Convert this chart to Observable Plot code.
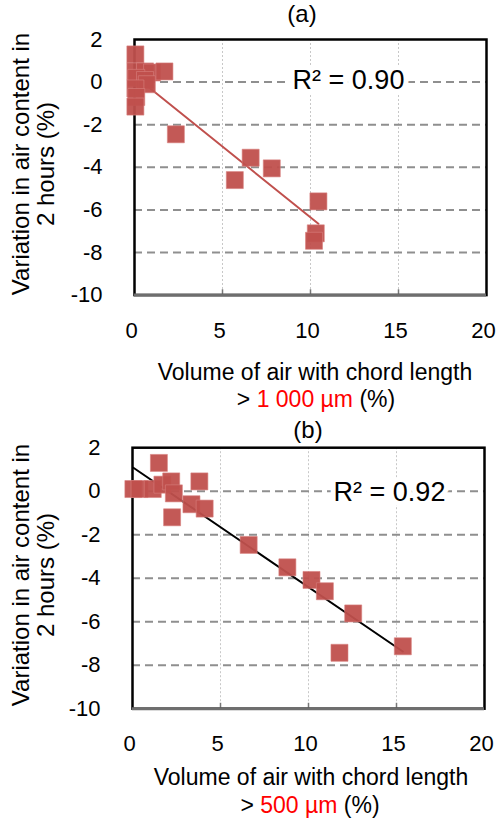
<!DOCTYPE html>
<html>
<head>
<meta charset="utf-8">
<script src="https://cdn.jsdelivr.net/npm/d3@7"></script>
<script src="https://cdn.jsdelivr.net/npm/@observablehq/plot@0.6"></script>
<style>
  html, body { margin: 0; padding: 0; background: #fff; }
  body { font-family: "Liberation Sans", Arial, sans-serif; color: #000; }
  #wrap { position: relative; width: 496px; height: 818px; overflow: hidden; }
  .abs { position: absolute; white-space: nowrap; }
  .ptitle { font-size: 24px; transform: translate(-50%, -50%); }
  .ytitle { font-size: 24px; line-height: 25px; text-align: center; transform: translate(-50%, -50%) rotate(-90deg); }
  .xtitle { font-size: 23px; transform: translate(-50%, -50%); }
  .red { color: #ff0000; }
  svg { position: absolute; left: 0; }
</style>
</head>
<body>
<div id="wrap">
  <div class="abs ptitle" style="left:302px; top:14px;">(a)</div>
  <div class="abs ytitle" style="left:33px; top:164px;">Variation in air content in<br>2 hours (%)</div>
  <div class="abs xtitle" style="left:315px; top:372px;">Volume of air with chord length</div>
  <div class="abs xtitle" style="left:316px; top:399px;">&gt; <span class="red">1 000 µm</span> (%)</div>

  <div class="abs ptitle" style="left:308px; top:430px;">(b)</div>
  <div class="abs ytitle" style="left:33px; top:575px;">Variation in air content in<br>2 hours (%)</div>
  <div class="abs xtitle" style="left:311px; top:777px;">Volume of air with chord length</div>
  <div class="abs xtitle" style="left:310px; top:805px;">&gt; <span class="red">500 µm</span> (%)</div>
</div>
<script>
// ---- data ----
const xTicks = [0, 5, 10, 15, 20];
const yTicks = [-10, -8, -6, -4, -2, 0, 2];
const gridYTicks = [-8, -6, -4, -2, 0];
const gridXTicks = [5, 10, 15];

// Panel (a): volume of air with chord length > 1000 µm (%)
const xA = [0.05, 0.05, 0.6, 1.0, 1.7, 0.1, 0.6, 0.7, 0.05, 0.1, 0.05, 2.35, 5.7, 6.6, 7.8, 10.45, 10.3, 10.2];
const yA = [1.3, 0.5, 0.5, 0.45, 0.5, 0.2, 0.1, -0.1, -0.3, -0.7, -1.15, -2.45, -4.6, -3.55, -4.05, -5.6, -7.1, -7.45];

// Panel (b): volume of air with chord length > 500 µm (%)
const xB = [0.05, 0.4, 1.15, 1.5, 1.7, 2.2, 2.35, 3.8, 2.25, 3.35, 4.1, 6.6, 8.8, 10.17, 10.93, 12.54, 11.76, 15.36];
const yB = [0.1, 0.1, 0.1, 1.3, 0.3, 0.45, -0.1, 0.45, -1.2, -0.6, -0.8, -2.47, -3.5, -4.08, -4.6, -5.62, -7.43, -7.13];

const r2Labels = ["R² = 0.90", "R² = 0.92"];

// ---- drawing ----
const markerColor = "#c0504d";
const fmt = d => String(d);

function panel(xs, ys, opts) {
  const data = xs.map((x, i) => ({x, y: ys[i]}));
  const yMin = d3.min(yTicks), yMax = d3.max(yTicks);
  return Plot.plot({
    width: 496,
    height: opts.height,
    marginLeft: opts.ml,
    marginRight: opts.mr,
    marginTop: opts.mt,
    marginBottom: opts.mb,
    style: {fontFamily: "'Liberation Sans', Arial, sans-serif", fontSize: "22px", color: "#000", background: "transparent", overflow: "visible"},
    x: {domain: [d3.min(xTicks), d3.max(xTicks)]},
    y: {domain: [yMin, yMax]},
    marks: [
      Plot.gridX(gridXTicks, {stroke: "#c8c8c8", strokeOpacity: 1, strokeWidth: 1, strokeDasharray: "2,2"}),
      Plot.gridY(gridYTicks, {stroke: "#8f8f8f", strokeOpacity: 1, strokeWidth: 2, strokeDasharray: "8,5"}),
      Plot.ruleX(gridXTicks, {y1: yMin, y2: yMin + 0.25, stroke: "#777", strokeWidth: 1.5}),
      Plot.frame({stroke: "#000", strokeWidth: 2.5}),
      Plot.ruleY([yMin], {stroke: "#6e6e6e", strokeWidth: 3}),
      Plot.axisX(xTicks, {tickSize: 0, tickPadding: 27, fontSize: 22, label: null, tickFormat: fmt, dx: -3}),
      Plot.axisY(yTicks, {tickSize: 0, tickPadding: 32, fontSize: 22, label: null, tickFormat: fmt}),
      Plot.linearRegressionY(data, {x: "x", y: "y", stroke: opts.lineColor, strokeWidth: 2, ci: 0}),
      Plot.dot(data, {x: "x", y: "y", symbol: "square", r: 9.6, fill: markerColor, fillOpacity: 0.95, stroke: "#d9827f", strokeWidth: 0.6}),
      Plot.text([opts.r2], {
        text: d => d, frameAnchor: "top-left", dx: opts.r2dx, dy: opts.r2dy,
        textAnchor: "middle", lineAnchor: "middle", fontSize: 27, fill: "#000",
        stroke: "#fff", strokeWidth: 10
      })
    ]
  });
}

const wrap = document.getElementById("wrap");

const pa = panel(xA, yA, {height: 340, ml: 134, mr: 10, mt: 39, mb: 45.4, lineColor: markerColor, r2: r2Labels[0], r2dx: 214, r2dy: 41});
pa.style.top = "0px";
wrap.appendChild(pa);

const pb = panel(xB, yB, {height: 340, ml: 132, mr: 12, mt: 37.2, mb: 41.8, lineColor: "#000", r2: r2Labels[1], r2dx: 257, r2dy: 44.5});
pb.style.top = "410px";
wrap.appendChild(pb);
</script>
</body>
</html>
